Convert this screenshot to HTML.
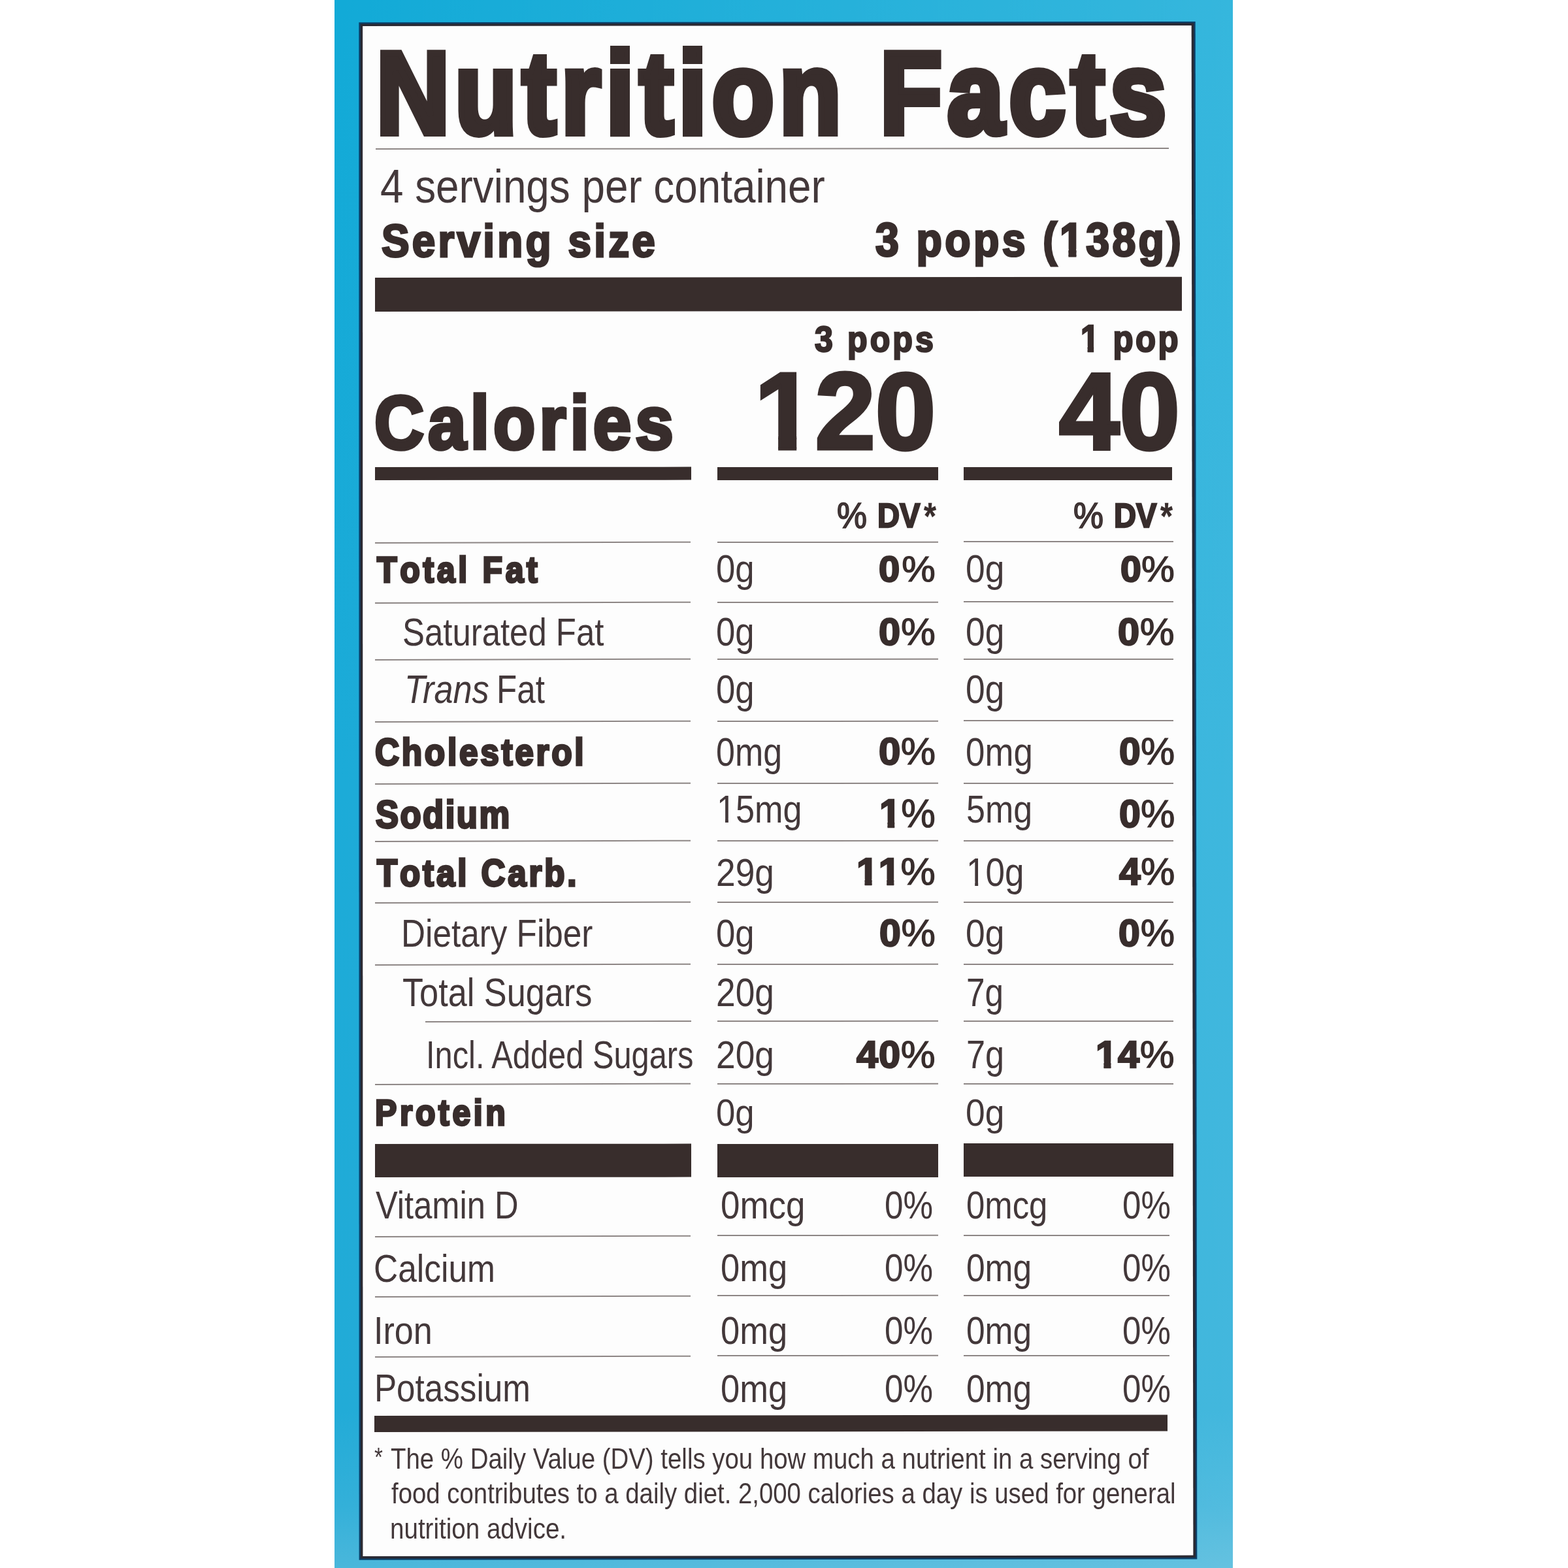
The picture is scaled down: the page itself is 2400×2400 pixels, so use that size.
<!DOCTYPE html>
<html lang="en">
<head>
<meta charset="utf-8">
<title>Nutrition Facts</title>
<style>
html,body{margin:0;padding:0;background:#fff;}
body{width:2400px;height:2400px;position:relative;overflow:hidden;font-family:"Liberation Sans",sans-serif;color:#382d2c;}
.pack{position:absolute;left:512px;top:0;width:1375px;height:2400px;background:linear-gradient(90deg,rgba(255,255,255,0) 0%,rgba(255,255,255,0.15) 100%),linear-gradient(180deg,#12aad7 0%,#1cabd8 50%,#22abd7 90%,#33b0d9 96%,#4ab7db 100%);}
.frame{position:absolute;left:0;top:0;width:2400px;height:2400px;}
.f1{background:#0b3f68;clip-path:polygon(549.3px 34.2px,1829.7px 33.0px,1832.3px 2386.4px,549.6px 2387.7px);}
.f2{background:#2b2a33;clip-path:polygon(551.6px 36.5px,1827.4px 35.3px,1830.0px 2384.1px,551.9px 2385.4px);}
.label{background:#fdfdfd;clip-path:polygon(555.1px 40.0px,1823.7px 38.9px,1826.4px 2380.6px,555.4px 2381.9px);}
.t{position:absolute;margin:0;padding:0;white-space:nowrap;line-height:1;transform-origin:0 0;font-weight:normal;font-style:normal;color:#382d2c;}
.t{-webkit-text-stroke-color:#382d2c;}
.h,.b{font-weight:bold;}
.r,.i{color:#43383a;}
.i{font-style:italic;}
.one{display:inline-block;}
.p{font-weight:normal;-webkit-text-stroke-width:1.2px;}
.rule{position:absolute;background:#382d2c;transform-origin:0 50%;}
.thin{background:#8d8685;}
</style>
</head>
<body>
<div class="pack"></div>
<div class="frame f1"></div>
<div class="frame f2"></div>
<div class="frame label"></div>
<div class="rule thin" style="left:574.5px;top:227.3px;width:1213.5px;height:2.0px;transform:rotate(-0.046deg)"></div>
<div class="rule" style="left:574.3px;top:425.2px;width:1235.2px;height:52.1px;transform:rotate(-0.060deg)"></div>
<div class="rule" style="left:574.3px;top:715.3px;width:484.0px;height:19.7px;transform:rotate(-0.045deg)"></div>
<div class="rule" style="left:574.3px;top:1751.2px;width:484.0px;height:51.4px;transform:rotate(-0.045deg)"></div>
<div class="rule" style="left:1097.7px;top:714.8px;width:337.8px;height:19.7px;transform:rotate(-0.010deg)"></div>
<div class="rule" style="left:1097.7px;top:1750.5px;width:337.8px;height:51.4px;transform:rotate(-0.010deg)"></div>
<div class="rule" style="left:1475.2px;top:714.7px;width:319.1px;height:19.7px;transform:rotate(-0.005deg)"></div>
<div class="rule" style="left:1475.2px;top:1750.4px;width:320.8px;height:51.4px;transform:rotate(-0.005deg)"></div>
<div class="rule thin" style="left:574.3px;top:829.9px;width:483.4px;height:1.7px;transform:rotate(-0.149deg)"></div>
<div class="rule thin" style="left:1097.7px;top:828.6px;width:337.8px;height:1.7px;transform:rotate(-0.034deg)"></div>
<div class="rule thin" style="left:1475.2px;top:828.3px;width:320.8px;height:1.7px;transform:rotate(-0.017deg)"></div>
<div class="rule thin" style="left:574.3px;top:921.9px;width:483.4px;height:1.7px;transform:rotate(-0.149deg)"></div>
<div class="rule thin" style="left:1097.7px;top:920.6px;width:337.8px;height:1.7px;transform:rotate(-0.034deg)"></div>
<div class="rule thin" style="left:1475.2px;top:920.3px;width:320.8px;height:1.7px;transform:rotate(-0.017deg)"></div>
<div class="rule thin" style="left:574.3px;top:1009.4px;width:483.4px;height:1.7px;transform:rotate(-0.149deg)"></div>
<div class="rule thin" style="left:1097.7px;top:1008.1px;width:337.8px;height:1.7px;transform:rotate(-0.034deg)"></div>
<div class="rule thin" style="left:1475.2px;top:1007.8px;width:320.8px;height:1.7px;transform:rotate(-0.017deg)"></div>
<div class="rule thin" style="left:574.3px;top:1103.9px;width:483.4px;height:1.7px;transform:rotate(-0.149deg)"></div>
<div class="rule thin" style="left:1097.7px;top:1102.6px;width:337.8px;height:1.7px;transform:rotate(-0.034deg)"></div>
<div class="rule thin" style="left:1475.2px;top:1102.3px;width:320.8px;height:1.7px;transform:rotate(-0.017deg)"></div>
<div class="rule thin" style="left:574.3px;top:1199.2px;width:483.4px;height:1.7px;transform:rotate(-0.149deg)"></div>
<div class="rule thin" style="left:1097.7px;top:1197.9px;width:337.8px;height:1.7px;transform:rotate(-0.034deg)"></div>
<div class="rule thin" style="left:1475.2px;top:1197.6px;width:320.8px;height:1.7px;transform:rotate(-0.017deg)"></div>
<div class="rule thin" style="left:574.3px;top:1287.2px;width:483.4px;height:1.7px;transform:rotate(-0.149deg)"></div>
<div class="rule thin" style="left:1097.7px;top:1285.9px;width:337.8px;height:1.7px;transform:rotate(-0.034deg)"></div>
<div class="rule thin" style="left:1475.2px;top:1285.6px;width:320.8px;height:1.7px;transform:rotate(-0.017deg)"></div>
<div class="rule thin" style="left:574.3px;top:1381.2px;width:483.4px;height:1.7px;transform:rotate(-0.149deg)"></div>
<div class="rule thin" style="left:1097.7px;top:1379.9px;width:337.8px;height:1.7px;transform:rotate(-0.034deg)"></div>
<div class="rule thin" style="left:1475.2px;top:1379.6px;width:320.8px;height:1.7px;transform:rotate(-0.017deg)"></div>
<div class="rule thin" style="left:574.3px;top:1476.2px;width:483.4px;height:1.7px;transform:rotate(-0.149deg)"></div>
<div class="rule thin" style="left:1097.7px;top:1474.9px;width:337.8px;height:1.7px;transform:rotate(-0.034deg)"></div>
<div class="rule thin" style="left:1475.2px;top:1474.6px;width:320.8px;height:1.7px;transform:rotate(-0.017deg)"></div>
<div class="rule thin" style="left:651.0px;top:1563.2px;width:406.7px;height:1.7px;transform:rotate(-0.149deg)"></div>
<div class="rule thin" style="left:1097.7px;top:1562.1px;width:337.8px;height:1.7px;transform:rotate(-0.034deg)"></div>
<div class="rule thin" style="left:1475.2px;top:1561.8px;width:320.8px;height:1.7px;transform:rotate(-0.017deg)"></div>
<div class="rule thin" style="left:574.3px;top:1659.2px;width:483.4px;height:1.7px;transform:rotate(-0.149deg)"></div>
<div class="rule thin" style="left:1097.7px;top:1657.9px;width:337.8px;height:1.7px;transform:rotate(-0.034deg)"></div>
<div class="rule thin" style="left:1475.2px;top:1657.6px;width:320.8px;height:1.7px;transform:rotate(-0.017deg)"></div>
<div class="rule thin" style="left:574.3px;top:1891.5px;width:483.4px;height:1.7px;transform:rotate(-0.149deg)"></div>
<div class="rule thin" style="left:1097.7px;top:1890.2px;width:337.8px;height:1.7px;transform:rotate(-0.034deg)"></div>
<div class="rule thin" style="left:1475.2px;top:1889.9px;width:314.8px;height:1.7px;transform:rotate(-0.017deg)"></div>
<div class="rule thin" style="left:574.3px;top:1983.6px;width:483.4px;height:1.7px;transform:rotate(-0.149deg)"></div>
<div class="rule thin" style="left:1097.7px;top:1982.3px;width:337.8px;height:1.7px;transform:rotate(-0.034deg)"></div>
<div class="rule thin" style="left:1475.2px;top:1982.0px;width:314.8px;height:1.7px;transform:rotate(-0.017deg)"></div>
<div class="rule thin" style="left:574.3px;top:2075.8px;width:483.4px;height:1.7px;transform:rotate(-0.149deg)"></div>
<div class="rule thin" style="left:1097.7px;top:2074.4px;width:337.8px;height:1.7px;transform:rotate(-0.034deg)"></div>
<div class="rule thin" style="left:1475.2px;top:2074.2px;width:314.8px;height:1.7px;transform:rotate(-0.017deg)"></div>
<div class="rule" style="left:573.3px;top:2167.2px;width:1213.7px;height:24.6px;transform:rotate(-0.069deg)"></div>
<h1 class="t h" style="left:576.26px;top:52.8px;font-size:178.56px;transform:scaleX(0.87);-webkit-text-stroke-width:10px;letter-spacing:0.052em;font-kerning:none;">Nutrition Facts</h1>
<div class="t r" style="left:581.84px;top:249.5px;font-size:71.87px;transform:scaleX(0.8877);">4 servings per container</div>
<div class="t b" style="left:583.6px;top:333.9px;font-size:70.94px;transform:scaleX(0.9);-webkit-text-stroke-width:3.2px;letter-spacing:0.0659em;font-kerning:none;">Serving size</div>
<div class="t b" style="left:1339.96px;top:331.6px;font-size:71.61px;transform:scaleX(0.9);-webkit-text-stroke-width:3.2px;letter-spacing:0.0677em;font-kerning:none;">3 pops (<span class="one" style="clip-path:polygon(-107.4px -107.4px,107.4px -107.4px,107.4px 49.49px,28.29px 49.49px,28.29px 107.4px,14.96px 107.4px,14.96px 49.49px,-107.4px 49.49px)">1</span>38g)</div>
<div class="t b" style="left:1247.27px;top:492.45px;font-size:55.71px;transform:scaleX(0.9);-webkit-text-stroke-width:2.5px;letter-spacing:0.0813em;font-kerning:none;">3 pops</div>
<div class="t b" style="left:1654.25px;top:491.45px;font-size:56.54px;transform:scaleX(0.9);-webkit-text-stroke-width:2.5px;letter-spacing:0.0689em;font-kerning:none;"><span class="one" style="clip-path:polygon(-84.8px -84.8px,84.8px -84.8px,84.8px 38.38px,22.35px 38.38px,22.35px 84.8px,11.80px 84.8px,11.80px 38.38px,-84.8px 38.38px)">1</span> pop</div>
<div class="t h" style="left:573.19px;top:590.25px;font-size:115.62px;transform:scaleX(0.91);-webkit-text-stroke-width:5.5px;letter-spacing:0.058em;font-kerning:none;">Calories</div>
<div class="t h" style="left:1154.64px;top:547.0px;font-size:166.13px;transform:scaleX(0.9999);-webkit-text-stroke-width:5px;"><span class="one" style="clip-path:polygon(-249.2px -249.2px,249.2px -249.2px,249.2px 118.95px,64.22px 118.95px,64.22px 249.2px,36.12px 249.2px,36.12px 118.95px,-249.2px 118.95px)">1</span>20</div>
<div class="t h" style="left:1620.99px;top:547.0px;font-size:166.13px;transform:scaleX(1.0002);-webkit-text-stroke-width:5px;">40</div>
<div class="t r" style="left:1281.49px;top:761.47px;font-size:56.31px;transform:scaleX(0.9191);-webkit-text-stroke-width:1.6px;">%</div>
<div class="t h" style="left:1342.95px;top:763.9px;font-size:51.02px;transform:scaleX(0.925);-webkit-text-stroke-width:2.4px;">DV</div>
<div class="t b" style="left:1414.03px;top:762.82px;font-size:56.71px;transform:scaleX(0.8585);-webkit-text-stroke-width:0.4px;">*</div>
<div class="t r" style="left:1643.29px;top:761.47px;font-size:56.31px;transform:scaleX(0.9191);-webkit-text-stroke-width:1.6px;">%</div>
<div class="t h" style="left:1704.75px;top:763.9px;font-size:51.02px;transform:scaleX(0.925);-webkit-text-stroke-width:2.4px;">DV</div>
<div class="t b" style="left:1775.83px;top:762.82px;font-size:56.71px;transform:scaleX(0.8585);-webkit-text-stroke-width:0.4px;">*</div>
<div class="t h" style="left:576.62px;top:844.85px;font-size:55.55px;transform:scaleX(0.9);-webkit-text-stroke-width:3.3px;letter-spacing:0.0937em;font-kerning:none;">Total Fat</div>
<div class="t h" style="left:574.38px;top:1122.85px;font-size:57.11px;transform:scaleX(0.9);-webkit-text-stroke-width:3.3px;letter-spacing:0.0715em;font-kerning:none;">Cholesterol</div>
<div class="t h" style="left:574.97px;top:1218.45px;font-size:58.37px;transform:scaleX(0.9);-webkit-text-stroke-width:3.3px;letter-spacing:0.0476em;font-kerning:none;">Sodium</div>
<div class="t h" style="left:576.61px;top:1308.65px;font-size:56.69px;transform:scaleX(0.9);-webkit-text-stroke-width:3.3px;letter-spacing:0.0764em;font-kerning:none;">Total Carb.</div>
<div class="t h" style="left:574.15px;top:1676.45px;font-size:55.41px;transform:scaleX(0.9);-webkit-text-stroke-width:3.3px;letter-spacing:0.0935em;font-kerning:none;">Protein</div>
<div class="t r" style="left:615.99px;top:938.3px;font-size:60.1px;transform:scaleX(0.8469);">Saturated Fat</div>
<div class="t r" style="left:759.81px;top:1025.0px;font-size:61.13px;transform:scaleX(0.8363);">Fat</div>
<div class="t r" style="left:614.09px;top:1399.3px;font-size:60.13px;transform:scaleX(0.8526);">Dietary Fiber</div>
<div class="t r" style="left:615.53px;top:1488.0px;font-size:61.99px;transform:scaleX(0.8426);">Total Sugars</div>
<div class="t r" style="left:651.5px;top:1585.0px;font-size:59.7px;transform:scaleX(0.8172);">Incl. Added Sugars</div>
<div class="t r" style="left:575.48px;top:1816.3px;font-size:58.41px;transform:scaleX(0.8672);">Vitamin D</div>
<div class="t r" style="left:572.38px;top:1911.5px;font-size:59.53px;transform:scaleX(0.8651);">Calcium</div>
<div class="t r" style="left:571.89px;top:2007.0px;font-size:59.7px;transform:scaleX(0.8728);">Iron</div>
<div class="t r" style="left:572.8px;top:2095.4px;font-size:59.99px;transform:scaleX(0.8529);">Potassium</div>
<div class="t i" style="left:618.6px;top:1025.0px;font-size:61.13px;transform:scaleX(0.8553);">Trans</div>
<div class="t r" style="left:1096.14px;top:841.3px;font-size:59.15px;transform:scaleX(0.8916);">0g</div>
<div class="t h" style="left:1344.96px;top:844.1px;font-size:55.71px;transform:scaleX(1.04);-webkit-text-stroke-width:2.4px;letter-spacing:0.0525em;font-kerning:none;">0<span class="p">%</span></div>
<div class="t r" style="left:1478.32px;top:841.3px;font-size:59.15px;transform:scaleX(0.9016);">0g</div>
<div class="t h" style="left:1714.97px;top:844.1px;font-size:55.71px;transform:scaleX(1.0266);-webkit-text-stroke-width:2.4px;letter-spacing:0.005em;font-kerning:none;">0<span class="p">%</span></div>
<div class="t r" style="left:1096.14px;top:937.3px;font-size:60.58px;transform:scaleX(0.8705);">0g</div>
<div class="t h" style="left:1344.9px;top:939.1px;font-size:57.14px;transform:scaleX(1.04);-webkit-text-stroke-width:2.4px;letter-spacing:0.0169em;font-kerning:none;">0<span class="p">%</span></div>
<div class="t r" style="left:1478.32px;top:937.3px;font-size:60.58px;transform:scaleX(0.8803);">0g</div>
<div class="t h" style="left:1711.4px;top:939.1px;font-size:57.14px;transform:scaleX(1.04);-webkit-text-stroke-width:2.4px;letter-spacing:0.0118em;font-kerning:none;">0<span class="p">%</span></div>
<div class="t r" style="left:1096.14px;top:1025.0px;font-size:60.87px;transform:scaleX(0.8664);">0g</div>
<div class="t r" style="left:1478.32px;top:1025.0px;font-size:60.87px;transform:scaleX(0.8762);">0g</div>
<div class="t r" style="left:1096.17px;top:1119.5px;font-size:61.58px;transform:scaleX(0.8437);">0mg</div>
<div class="t h" style="left:1344.87px;top:1121.3px;font-size:58.15px;transform:scaleX(1.0311);-webkit-text-stroke-width:2.4px;letter-spacing:0.005em;font-kerning:none;">0<span class="p">%</span></div>
<div class="t r" style="left:1478.34px;top:1119.5px;font-size:61.58px;transform:scaleX(0.8578);">0mg</div>
<div class="t h" style="left:1712.89px;top:1121.3px;font-size:58.15px;transform:scaleX(1.0091);-webkit-text-stroke-width:2.4px;letter-spacing:0.005em;font-kerning:none;">0<span class="p">%</span></div>
<div class="t r" style="left:1096.68px;top:1209.0px;font-size:59.16px;transform:scaleX(0.8824);"><span class="one" style="clip-path:polygon(-88.7px -88.7px,88.7px -88.7px,88.7px 43.98px,20.26px 43.98px,20.26px 88.7px,14.73px 88.7px,14.73px 43.98px,-88.7px 43.98px)">1</span>5mg</div>
<div class="t r" style="left:1479.32px;top:1209.0px;font-size:59.16px;transform:scaleX(0.8779);">5mg</div>
<div class="t r" style="left:1095.92px;top:1305.5px;font-size:60.15px;transform:scaleX(0.886);">29g</div>
<div class="t h" style="left:1311.16px;top:1306.3px;font-size:57.56px;transform:scaleX(1.04);-webkit-text-stroke-width:2.4px;letter-spacing:0.007em;font-kerning:none;"><span class="one" style="clip-path:polygon(-86.3px -86.3px,86.3px -86.3px,86.3px 39.33px,22.68px 39.33px,22.68px 86.3px,12.08px 86.3px,12.08px 39.33px,-86.3px 39.33px)">1</span><span class="one" style="clip-path:polygon(-86.3px -86.3px,86.3px -86.3px,86.3px 39.33px,22.68px 39.33px,22.68px 86.3px,12.08px 86.3px,12.08px 39.33px,-86.3px 39.33px)">1</span><span class="p">%</span></div>
<div class="t r" style="left:1478.8px;top:1304.5px;font-size:61.05px;transform:scaleX(0.868);"><span class="one" style="clip-path:polygon(-91.6px -91.6px,91.6px -91.6px,91.6px 44.84px,20.90px 44.84px,20.90px 91.6px,15.20px 91.6px,15.20px 44.84px,-91.6px 44.84px)">1</span>0g</div>
<div class="t h" style="left:1712.64px;top:1306.3px;font-size:57.56px;transform:scaleX(1.0224);-webkit-text-stroke-width:2.4px;letter-spacing:0.005em;font-kerning:none;">4<span class="p">%</span></div>
<div class="t r" style="left:1096.14px;top:1399.2px;font-size:60.01px;transform:scaleX(0.8788);">0g</div>
<div class="t h" style="left:1345.92px;top:1401.0px;font-size:56.57px;transform:scaleX(1.04);-webkit-text-stroke-width:2.4px;letter-spacing:0.0139em;font-kerning:none;">0<span class="p">%</span></div>
<div class="t r" style="left:1478.32px;top:1399.2px;font-size:60.01px;transform:scaleX(0.8887);">0g</div>
<div class="t h" style="left:1711.92px;top:1401.0px;font-size:56.57px;transform:scaleX(1.04);-webkit-text-stroke-width:2.4px;letter-spacing:0.0173em;font-kerning:none;">0<span class="p">%</span></div>
<div class="t r" style="left:1095.92px;top:1489.0px;font-size:60.44px;transform:scaleX(0.8818);">20g</div>
<div class="t r" style="left:1478.77px;top:1488.0px;font-size:61.34px;transform:scaleX(0.8359);">7g</div>
<div class="t r" style="left:1095.92px;top:1584.7px;font-size:59.72px;transform:scaleX(0.8923);">20g</div>
<div class="t h" style="left:1311.15px;top:1585.5px;font-size:57.12px;transform:scaleX(1.04);-webkit-text-stroke-width:2.4px;letter-spacing:0.0146em;font-kerning:none;">40<span class="p">%</span></div>
<div class="t r" style="left:1478.72px;top:1583.7px;font-size:60.61px;transform:scaleX(0.8625);">7g</div>
<div class="t h" style="left:1677.39px;top:1585.5px;font-size:57.12px;transform:scaleX(1.04);-webkit-text-stroke-width:2.4px;letter-spacing:0.0143em;font-kerning:none;"><span class="one" style="clip-path:polygon(-85.7px -85.7px,85.7px -85.7px,85.7px 39.37px,22.52px 39.37px,22.52px 85.7px,11.98px 85.7px,11.98px 39.37px,-85.7px 39.37px)">1</span>4<span class="p">%</span></div>
<div class="t r" style="left:1096.14px;top:1673.7px;font-size:58.29px;transform:scaleX(0.9047);">0g</div>
<div class="t r" style="left:1478.32px;top:1673.7px;font-size:58.29px;transform:scaleX(0.9149);">0g</div>
<div class="t h" style="left:1346.14px;top:1216.1px;font-size:60.18px;transform:scaleX(0.9817);-webkit-text-stroke-width:2.4px;letter-spacing:0.005em;font-kerning:none;"><span class="one" style="clip-path:polygon(-90.3px -90.3px,90.3px -90.3px,90.3px 41.06px,23.65px 41.06px,23.65px 90.3px,12.70px 90.3px,12.70px 41.06px,-90.3px 41.06px)">1</span><span class="p">%</span></div>
<div class="t h" style="left:1712.56px;top:1216.1px;font-size:59.29px;transform:scaleX(0.9936);-webkit-text-stroke-width:2.4px;letter-spacing:0.005em;font-kerning:none;">0<span class="p">%</span></div>
<div class="t r" style="left:1102.73px;top:1815.0px;font-size:59.29px;transform:scaleX(0.8923);">0mcg</div>
<div class="t r" style="left:1354.0px;top:1815.0px;font-size:59.29px;transform:scaleX(0.8638);">0%</div>
<div class="t r" style="left:1479.41px;top:1815.0px;font-size:59.29px;transform:scaleX(0.8578);">0mcg</div>
<div class="t r" style="left:1718.0px;top:1815.0px;font-size:59.29px;transform:scaleX(0.8614);">0%</div>
<div class="t r" style="left:1102.75px;top:1910.7px;font-size:59.29px;transform:scaleX(0.8855);">0mg</div>
<div class="t r" style="left:1354.0px;top:1910.7px;font-size:59.29px;transform:scaleX(0.8638);">0%</div>
<div class="t r" style="left:1479.39px;top:1910.7px;font-size:59.29px;transform:scaleX(0.8681);">0mg</div>
<div class="t r" style="left:1718.0px;top:1910.7px;font-size:59.29px;transform:scaleX(0.8614);">0%</div>
<div class="t r" style="left:1102.75px;top:2007.0px;font-size:60.15px;transform:scaleX(0.8729);">0mg</div>
<div class="t r" style="left:1354.0px;top:2007.0px;font-size:60.15px;transform:scaleX(0.8515);">0%</div>
<div class="t r" style="left:1479.39px;top:2007.0px;font-size:60.15px;transform:scaleX(0.8557);">0mg</div>
<div class="t r" style="left:1718.0px;top:2007.0px;font-size:60.15px;transform:scaleX(0.8491);">0%</div>
<div class="t r" style="left:1102.75px;top:2095.5px;font-size:59.43px;transform:scaleX(0.8834);">0mg</div>
<div class="t r" style="left:1354.0px;top:2095.5px;font-size:59.43px;transform:scaleX(0.8618);">0%</div>
<div class="t r" style="left:1479.39px;top:2095.5px;font-size:59.43px;transform:scaleX(0.866);">0mg</div>
<div class="t r" style="left:1718.0px;top:2095.5px;font-size:59.43px;transform:scaleX(0.8593);">0%</div>
<div class="t r" style="left:572.97px;top:2210.94px;font-size:39.88px;transform:scaleX(0.8279);">*</div>
<div class="t r" style="left:598.44px;top:2211.3px;font-size:44.62px;transform:scaleX(0.8609);">The % Daily Value (DV) tells you how much a nutrient in a serving of</div>
<div class="t r" style="left:598.76px;top:2264.9px;font-size:43.61px;transform:scaleX(0.8796);">food contributes to a daily diet. 2,000 calories a day is used for general</div>
<div class="t r" style="left:596.74px;top:2319.0px;font-size:43.47px;transform:scaleX(0.8871);">nutrition advice.</div>
</body>
</html>
